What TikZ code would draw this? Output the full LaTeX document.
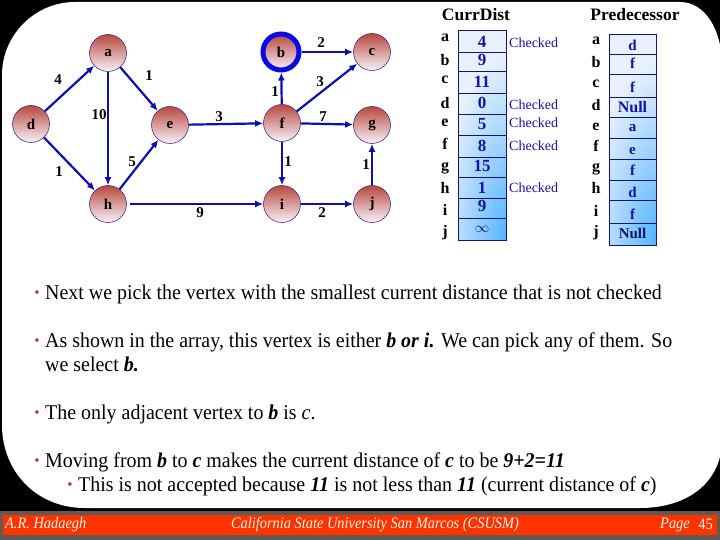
\documentclass[tikz,border=0pt]{standalone}
\usepackage{fontspec}
\setmainfont{Liberation Serif}
\newfontfamily\condfont[FakeStretch=0.95]{Liberation Serif}
\newfontfamily\footfont[FakeStretch=0.9]{Liberation Serif}
\usetikzlibrary{arrows.meta}
\definecolor{edgeblue}{RGB}{15,15,175}
\definecolor{nodetop}{RGB}{185,72,62}
\definecolor{nodebot}{RGB}{248,242,250}
\definecolor{nodeline}{RGB}{70,50,130}
\definecolor{bstroke}{RGB}{10,10,230}
\definecolor{cellline}{RGB}{20,20,110}
\definecolor{celllight}{RGB}{232,241,253}
\definecolor{cellblue}{RGB}{70,175,255}
\definecolor{valblue}{RGB}{20,20,170}
\definecolor{bulletc}{RGB}{180,70,35}
\definecolor{footgray}{RGB}{98,90,80}
\definecolor{footred}{RGB}{255,51,0}
\definecolor{foottext}{RGB}{255,245,225}
\begin{document}
\begin{tikzpicture}[x=1pt,y=-1pt,
  vtx/.style={circle,minimum size=37pt,inner sep=0pt,draw=nodeline,line width=0.6pt,
    top color=nodetop,bottom color=nodebot,font=\fontsize{15}{15}\selectfont\bfseries},
  edge/.style={draw=edgeblue,line width=2.2pt,-{Latex[length=8pt,width=7pt]}},
  elab/.style={font=\fontsize{15}{15}\selectfont\bfseries,inner sep=0pt},
  cellbox/.style={draw=cellline,line width=0.8pt},
  val/.style={inner sep=0pt,font=\fontsize{17}{17}\selectfont\bfseries,text=valblue},
  pval/.style={inner sep=0pt,font=\fontsize{15}{15}\selectfont\bfseries,text=valblue},
  rowlab/.style={font=\fontsize{16}{16}\selectfont\bfseries,inner sep=0pt},
  chk/.style={font=\fontsize{14}{14}\selectfont,text=valblue,inner sep=0pt,anchor=west},
  body/.style={font=\condfont\fontsize{21}{21}\selectfont,anchor=base west,inner sep=0pt},
  bul/.style={font=\fontsize{15}{15}\selectfont,text=bulletc,inner sep=0pt},
  foot/.style={font=\footfont\fontsize{16}{16}\selectfont\itshape,text=foottext,inner sep=0pt}
]
\useasboundingbox (0,0) rectangle (720,540);
\fill[black] (0,0) rectangle (720,540);
\fill[white] (75,2) -- (680,2) .. controls (705,2) and (722,30) .. (722,65) -- (722,440)
  .. controls (722,480) and (690,508) .. (640,508) -- (85,508)
  .. controls (35,508) and (2,470) .. (2,425) -- (2,75) .. controls (2,35) and (35,2) .. (75,2) -- cycle;
\fill[footgray] (0,511) rectangle (720,540);
\fill[footred] (3,515) rectangle (717,535);

% graph
\node[vtx] (a) at (108,53) {a};
\node[vtx,draw=bstroke,line width=5pt,minimum size=36pt] (b) at (281,52) {b};
\node[vtx] (c) at (372,52) {c};
\node[vtx] (d) at (31,124) {d};
\node[vtx] (e) at (170,125) {e};
\node[vtx] (f) at (282,123) {f};
\node[vtx] (g) at (372,125) {g};
\node[vtx] (h) at (108,204) {h};
\node[vtx] (i) at (282,204) {i};
\node[vtx] (j) at (372,204) {j};

\draw[edge] (d) -- (a);
\draw[edge] (d) -- (h);
\draw[edge] (a) -- (h);
\draw[edge] (a) -- (e);
\draw[edge] (h) -- (e);
\draw[edge] (e) -- (f);
\draw[edge] (f) -- (b);
\draw[edge] (b) -- (c);
\draw[edge] (f) -- (c);
\draw[edge] (f) -- (g);
\draw[edge] (f) -- (i);
\draw[edge,shorten <=3pt] (h) -- (i);
\draw[edge] (i) -- (j);
\draw[edge] (j) -- (g);

\node[elab] (l1) at (58,80) {4};
\node[elab] (l2) at (59,172) {1};
\node[elab] (l3) at (99,115) {10};
\node[elab] (l4) at (149,76) {1};
\node[elab] (l5) at (132,162) {5};
\node[elab] (l6) at (219,117) {3};
\node[elab] (l7) at (275,92) {1};
\node[elab] (l8) at (321,43) {2};
\node[elab] (l9) at (320,82) {3};
\node[elab] (l10) at (323,117) {7};
\node[elab] (l11) at (288,162) {1};
\node[elab] (l12) at (200,213) {9};
\node[elab] (l13) at (322,213) {2};
\node[elab] (l14) at (366,165) {1};

% CurrDist table
\node[font=\fontsize{17.5}{17.5}\selectfont\bfseries,inner sep=0pt] (hcd) at (476,15) {CurrDist};
\fill[celllight] (458,30) rectangle (506,240);
\begin{scope}
  \clip (458,30) rectangle (506,240);
  \shade[inner color=cellblue,outer color=celllight] (512,245) ellipse (75pt and 190pt);
\end{scope}
\foreach \ta/\tb in {30/52, 52/71, 71/93, 93/114, 114/135, 135/157, 157/177, 177/198, 198/218, 218/240}{
  \draw[cellbox] (458,\ta) rectangle (506,\tb);
}
\node[val] (va) at (482,42) {4};
\node[val] (vb) at (482,60) {9};
\node[val] (vc) at (482,82) {11};
\node[val] (vd) at (482,103) {0};
\node[val] (ve) at (482,124) {5};
\node[val] (vf) at (482,146) {8};
\node[val] (vg) at (482,166) {15};
\node[val] (vh) at (482,188) {1};
\node[val] (vi) at (482,206) {9};
\node[val,font=\fontsize{14}{14}\selectfont\bfseries,text=cellline] (vj) at (482,229) {$\mathbf{\infty}$};

\node[rowlab] (ra) at (445,38) {a};
\node[rowlab] (rb) at (445,60) {b};
\node[rowlab] (rc) at (445,80) {c};
\node[rowlab] (rd) at (445,103) {d};
\node[rowlab] (re) at (445,123) {e};
\node[rowlab] (rf) at (445,144) {f};
\node[rowlab] (rg) at (445,168) {g};
\node[rowlab] (rh) at (445,188) {h};
\node[rowlab] (ri) at (445,210) {i};
\node[rowlab] (rj) at (445,233) {j};
\node[chk] (ck1) at (509,43) {Checked};
\node[chk] (ck2) at (509,105) {Checked};
\node[chk] (ck3) at (509,123) {Checked};
\node[chk] (ck4) at (509,146) {Checked};
\node[chk] (ck5) at (509,188) {Checked};

% Predecessor table
\node[font=\fontsize{17.5}{17.5}\selectfont\bfseries,inner sep=0pt] (hpr) at (635,15) {Predecessor};
\fill[celllight] (609,34) rectangle (656,245);
\begin{scope}
  \clip (609,34) rectangle (656,245);
  \shade[inner color=cellblue,outer color=celllight] (662,250) ellipse (75pt and 190pt);
\end{scope}
\foreach \ta/\tb in {34/54, 54/74, 74/97, 97/117, 117/138, 138/159, 159/180, 180/200, 200/223, 223/245}{
  \draw[cellbox] (609,\ta) rectangle (656,\tb);
}
\node[pval] (qa) at (632.5,45) {d};
\node[pval] (qb) at (632.5,63) {f};
\node[pval] (qc) at (632.5,87) {f};
\node[pval,font=\fontsize{16}{16}\selectfont\bfseries] (qd) at (632.5,107) {Null};
\node[pval] (qe) at (632.5,128) {a};
\node[pval] (qf) at (632.5,151) {e};
\node[pval] (qg) at (632.5,170) {f};
\node[pval] (qh) at (632.5,192) {d};
\node[pval] (qi) at (632.5,214) {f};
\node[pval,text=cellline] (qj) at (632.5,233) {Null};

\node[rowlab] (pa) at (596,41) {a};
\node[rowlab] (pb) at (596,62) {b};
\node[rowlab] (pc) at (596,84) {c};
\node[rowlab] (pd) at (596,105) {d};
\node[rowlab] (pe) at (596,127) {e};
\node[rowlab] (pf) at (596,146) {f};
\node[rowlab] (pg) at (596,169) {g};
\node[rowlab] (ph) at (596,188) {h};
\node[rowlab] (pi) at (596,211) {i};
\node[rowlab] (pj) at (596,233) {j};

% bullet text
\node[bul] (b1) at (37,294) {•};
\node[body] (t1) at (45,299) {Next we pick the vertex with the smallest current distance that is not checked};
\node[bul] (b2) at (37,342) {•};
\node[body] (t2) at (45,347) {As shown in the array, this vertex is either \textbf{\textit{b or i.}} We can pick any of them. So};
\node[body] (t3) at (45,371) {we select \textbf{\textit{b.}}};
\node[bul] (b3) at (37,414) {•};
\node[body] (t4) at (45,419) {The only adjacent vertex to \textbf{\textit{b}} is \textit{c}.};
\node[bul] (b4) at (37,462) {•};
\node[body] (t5) at (45,467) {Moving from \textbf{\textit{b}} to \textbf{\textit{c}} makes the current distance of \textbf{\textit{c}} to be \textbf{\textit{9+2=11}}};
\node[bul] (b5) at (70,486) {•};
\node[body] (t6) at (78,491) {This is not accepted because \textbf{\textit{11}} is not less than \textbf{\textit{11}} (current distance of \textbf{\textit{c}})};

% footer
\node[foot,anchor=west] (f1) at (5,525) {A.R. Hadaegh};
\node[foot] (f2) at (375,525) {California State University San Marcos (CSUSM)};
\node[foot,anchor=east] (f3) at (690,525) {Page};
\node[foot,font=\footfont\fontsize{16}{16}\selectfont,anchor=east] (f4) at (713,524) {45};
\end{tikzpicture}
\end{document}
